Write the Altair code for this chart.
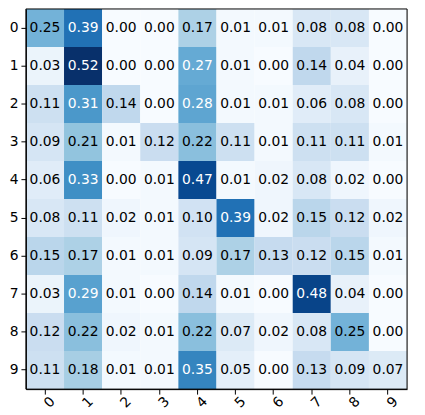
import altair as alt
import pandas as pd

rows = ["0", "1", "2", "3", "4", "5", "6", "7", "8", "9"]
cols = ["0", "1", "2", "3", "4", "5", "6", "7", "8", "9"]
values = [
    [0.25, 0.39, 0.00, 0.00, 0.17, 0.01, 0.01, 0.08, 0.08, 0.00],
    [0.03, 0.52, 0.00, 0.00, 0.27, 0.01, 0.00, 0.14, 0.04, 0.00],
    [0.11, 0.31, 0.14, 0.00, 0.28, 0.01, 0.01, 0.06, 0.08, 0.00],
    [0.09, 0.21, 0.01, 0.12, 0.22, 0.11, 0.01, 0.11, 0.11, 0.01],
    [0.06, 0.33, 0.00, 0.01, 0.47, 0.01, 0.02, 0.08, 0.02, 0.00],
    [0.08, 0.11, 0.02, 0.01, 0.10, 0.39, 0.02, 0.15, 0.12, 0.02],
    [0.15, 0.17, 0.01, 0.01, 0.09, 0.17, 0.13, 0.12, 0.15, 0.01],
    [0.03, 0.29, 0.01, 0.00, 0.14, 0.01, 0.00, 0.48, 0.04, 0.00],
    [0.12, 0.22, 0.02, 0.01, 0.22, 0.07, 0.02, 0.08, 0.25, 0.00],
    [0.11, 0.18, 0.01, 0.01, 0.35, 0.05, 0.00, 0.13, 0.09, 0.07],
]

records = []
for i, r in enumerate(rows):
    for j, c in enumerate(cols):
        records.append({"row": r, "col": c, "v": values[i][j], "label": f"{values[i][j]:.2f}"})
df = pd.DataFrame(records)

vmax = max(max(r) for r in values)
blues = ["#f7fbff", "#deebf7", "#c6dbef", "#9ecae1", "#6baed6",
         "#4292c6", "#2171b5", "#08519c", "#08306b"]
dom = [vmax * k / 8 for k in range(9)]

W, H = 383, 382
font = "DejaVu Sans"
x = alt.X("col:O", sort=cols, title=None,
          axis=alt.Axis(labelAngle=-45, labelFont=font, labelFontSize=13.9,
                        labelColor="black", domainColor="black", tickColor="black",
                        tickSize=5, labelPadding=3, labelAlign="center",
                        labelBaseline="top"),
          scale=alt.Scale(paddingInner=0, paddingOuter=0))
y = alt.Y("row:O", sort=rows, title=None,
          axis=alt.Axis(labelFont=font, labelFontSize=13.9, labelColor="black",
                        domainColor="black", tickColor="black", tickSize=5,
                        labelPadding=3),
          scale=alt.Scale(paddingInner=0, paddingOuter=0))

base = alt.Chart(df)
rect = base.mark_rect().encode(
    x=x, y=y,
    color=alt.Color("v:Q", scale=alt.Scale(domain=dom, range=blues, interpolate="rgb"),
                    legend=None),
)
text = base.mark_text(font=font, fontSize=13.9).encode(
    x=alt.X("col:O", sort=cols),
    y=alt.Y("row:O", sort=rows),
    text="label:N",
    color=alt.condition(alt.datum.v > vmax / 2, alt.value("white"), alt.value("black")),
)
frame = alt.Chart(pd.DataFrame({"a": [0]})).mark_rect(
    filled=False, stroke="black", strokeWidth=1
).encode(x=alt.value(0), x2=alt.value(W), y=alt.value(0), y2=alt.value(H))

chart = (rect + text + frame).properties(
    width=W, height=H,
    autosize=alt.AutoSizeParams(type="none"),
    padding={"left": 18, "top": 0, "right": 10, "bottom": 22},
).configure_view(stroke="black", strokeWidth=1).configure(background="white")

chart.save("out.html", embed_options={"renderer": "svg", "actions": False})
